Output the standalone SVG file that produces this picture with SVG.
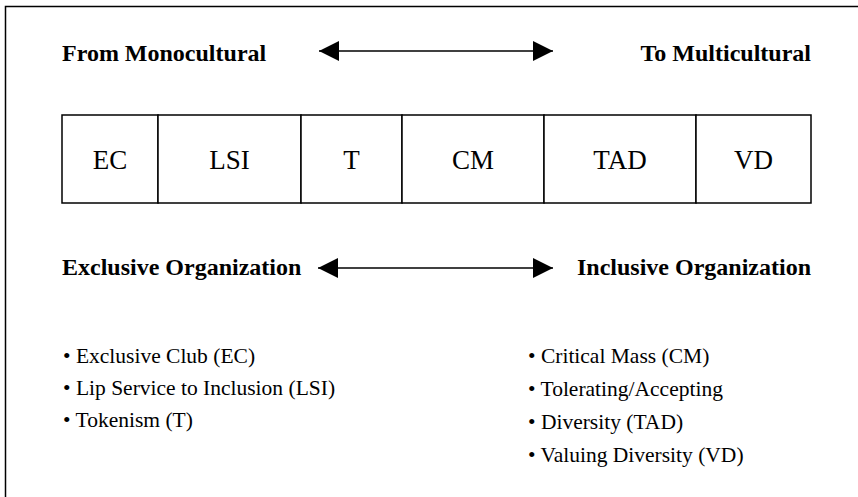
<svg xmlns="http://www.w3.org/2000/svg" width="858" height="497" viewBox="0 0 858 497">
<defs>
<style>
.bold{font-family:"Liberation Serif","Times New Roman",serif;font-weight:bold;font-size:24px;fill:#000}
.cell{font-family:"Liberation Serif","Times New Roman",serif;font-size:27px;fill:#000;text-anchor:middle}
.item{font-family:"Liberation Serif","Times New Roman",serif;font-size:21.5px;fill:#000}
.ln{stroke:#000;stroke-width:1.5;fill:none}
.box{stroke:#000;stroke-width:1.5;fill:#fff}
</style>
<marker id="ah" viewBox="0 0 20 20" refX="20" refY="10" markerWidth="20" markerHeight="20" markerUnits="userSpaceOnUse" orient="auto-start-reverse">
<path d="M0,0 L20,10 L0,20 Z" fill="#000"/>
</marker>
</defs>
<rect width="858" height="497" fill="#fff"/>
<path d="M5.5,497 V6.5 H858" stroke="#000" stroke-width="1.5" fill="none"/>

<g id="top-labels">
<text class="bold" x="62" y="61">From Monocultural</text>
<text class="bold" x="811" y="61" text-anchor="end">To Multicultural</text>
</g>
<g id="bottom-labels">
<text class="bold" x="62" y="275">Exclusive Organization</text>
<text class="bold" x="811" y="275" text-anchor="end">Inclusive Organization</text>
</g>

<g id="connectors">
<line class="ln" x1="319" y1="51" x2="553" y2="51" marker-start="url(#ah)" marker-end="url(#ah)"/>
<line class="ln" x1="318" y1="268" x2="553" y2="268" marker-start="url(#ah)" marker-end="url(#ah)"/>
</g>

<g id="stages">
<g id="EC"><rect class="box" x="62" y="115" width="96" height="88"/><text class="cell" x="110" y="169">EC</text></g>
<g id="LSI"><rect class="box" x="158" y="115" width="143" height="88"/><text class="cell" x="229.5" y="169">LSI</text></g>
<g id="T"><rect class="box" x="301" y="115" width="101" height="88"/><text class="cell" x="351.5" y="169">T</text></g>
<g id="CM"><rect class="box" x="402" y="115" width="142" height="88"/><text class="cell" x="473" y="169">CM</text></g>
<g id="TAD"><rect class="box" x="544" y="115" width="152" height="88"/><text class="cell" x="620" y="169">TAD</text></g>
<g id="VD"><rect class="box" x="696" y="115" width="115" height="88"/><text class="cell" x="753.5" y="169">VD</text></g>
</g>

<g id="left-list">
<text class="item" x="63" y="363">• Exclusive Club (EC)</text>
<text class="item" x="63" y="395">• Lip Service to Inclusion (LSI)</text>
<text class="item" x="63" y="427">• Tokenism (T)</text>
</g>
<g id="right-list">
<text class="item" x="528" y="363">• Critical Mass (CM)</text>
<text class="item" x="528" y="396">• Tolerating/Accepting</text>
<text class="item" x="528" y="429">• Diversity (TAD)</text>
<text class="item" x="528" y="462">• Valuing Diversity (VD)</text>
</g>
</svg>
